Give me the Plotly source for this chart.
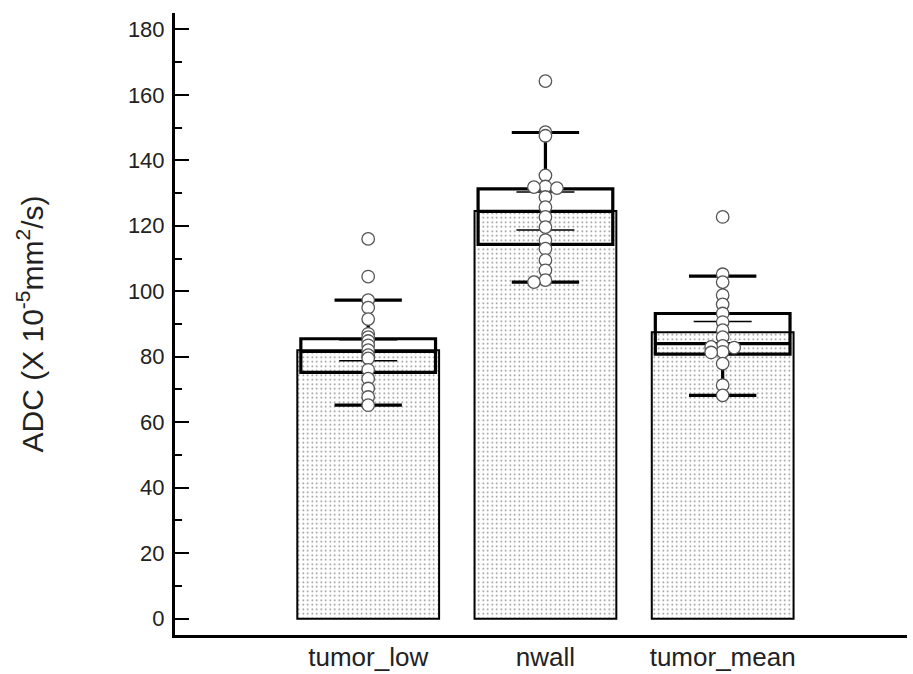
import plotly.graph_objects as go

categories = ["tumor_low", "nwall", "tumor_mean"]

# summary statistics
means = [82.0, 124.5, 87.5]
se = [3.2, 5.8, 3.3]
q1 = [75.2, 114.3, 80.8]
medians = [81.6, 124.4, 84.0]
q3 = [85.5, 131.3, 93.2]
whisk_low = [65.2, 102.8, 68.2]
whisk_high = [97.3, 148.5, 104.6]

# individual points
pts_tumor_low = [116, 104.5, 97.3, 95, 91.5, 87, 86, 84.8, 83.5, 82, 80.5, 79.5,
                 76, 73.3, 70.3, 67.7, 65.2]
pts_nwall = [164.2, 148.6, 147.5, 135.4, 132.0, 131.8, 131.5, 128.8, 125.7, 122.7,
             119.6, 115.6, 113, 109.5, 106.4, 103.4, 102.8]
pts_tumor_mean = [122.7, 105.2, 102.8, 98.8, 96, 93.2, 90.6, 88.1, 86, 83.3, 83.0,
                  82.8, 81.5, 81.3, 77.9, 71.3, 68.2]
points = [pts_tumor_low, pts_nwall, pts_tumor_mean]


def swarm(vals, center, step=0.065, thr=1.0):
    placed = []
    xs = []
    for v in vals:
        chosen = 0
        for c in [0, -1, 1, -2, 2, -3, 3]:
            if all(not (abs(v - pv) < thr and pc == c) for pv, pc in placed):
                chosen = c
                break
        placed.append((v, chosen))
        xs.append(center + chosen * step)
    return xs


xpos = list(range(len(categories)))

fig = go.Figure()

fig.add_trace(go.Bar(
    x=xpos, y=means, width=0.8,
    marker=dict(color="white", line=dict(color="black", width=2),
                pattern=dict(shape=".", fgcolor="black", bgcolor="white",
                             size=4.5, solidity=0.1)),
    error_y=dict(type="data", array=se, visible=True, color="black",
                 thickness=1.5, width=29),
    showlegend=False,
))

fig.add_trace(go.Box(
    x=xpos, q1=q1, median=medians, q3=q3,
    lowerfence=whisk_low, upperfence=whisk_high,
    width=0.76, whiskerwidth=0.5,
    line=dict(color="black", width=3.2),
    fillcolor="rgba(0,0,0,0)",
    boxpoints=False, showlegend=False, hoverinfo="skip",
))

for i, vals in enumerate(points):
    fig.add_trace(go.Scatter(
        x=swarm(vals, i), y=vals, mode="markers",
        marker=dict(size=12.5, color="white",
                    line=dict(color="#555555", width=1.3)),
        showlegend=False,
    ))

fig.update_layout(
    width=913, height=674, autosize=False,
    margin=dict(l=175, r=6, t=13, b=39),
    plot_bgcolor="white", paper_bgcolor="white",
    font=dict(family="Liberation Sans, Arial, sans-serif", size=22, color="#222"),
    xaxis=dict(
        range=[-1.09, 3.04], tickmode="array", tickvals=xpos, ticktext=categories,
        showline=True, linecolor="black", linewidth=3, ticks="",
        showgrid=False, zeroline=False, ticklabelstandoff=-3,
        tickfont=dict(size=26), automargin=False,
    ),
    yaxis=dict(
        range=[-5, 185], tickmode="linear", tick0=0, dtick=20,
        showline=True, linecolor="black", linewidth=3,
        ticks="inside", ticklen=14, tickwidth=2, tickcolor="black",
        minor=dict(ticks="inside", ticklen=7, tickwidth=2, dtick=10,
                   tickcolor="black"),
        showgrid=False, zeroline=False, automargin=False,
        tickfont=dict(size=22), ticklabelstandoff=3,
        title=dict(text="ADC (X 10<sup>-5</sup>mm<sup>2</sup>/s)", standoff=76,
                   font=dict(size=30)),
    ),
)

fig.write_html("out.html", config={"responsive": False, "displayModeBar": False},
               post_script="document.body.style.margin='0px';"
                           "document.body.style.overflow='hidden';")
